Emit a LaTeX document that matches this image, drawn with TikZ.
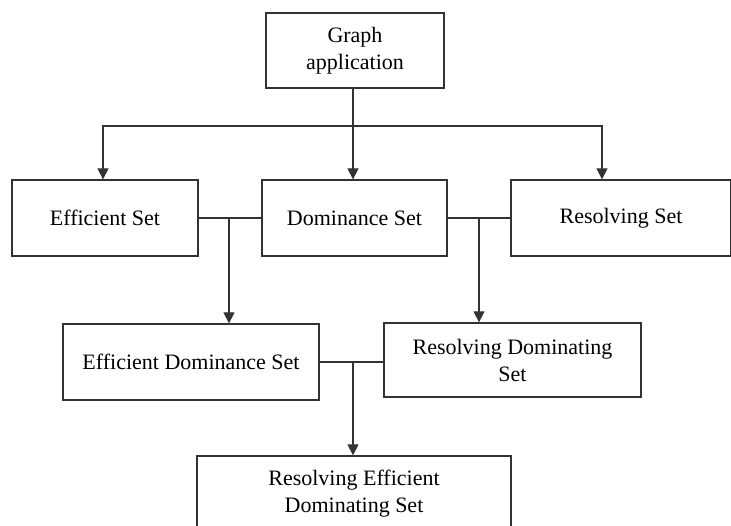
\documentclass[tikz,border=0pt]{standalone}
\usepackage{fontspec}
\setmainfont{Liberation Serif}
\usetikzlibrary{arrows.meta}
\definecolor{ink}{HTML}{333333}

\begin{document}
\begin{tikzpicture}[x=1pt,y=1pt,font=\fontsize{22}{27}\selectfont,
  >={Triangle[width=11pt,length=11pt]},
  box/.style={draw=ink,line width=1.3pt,align=center,inner sep=0pt,minimum height=76pt},
  link/.style={draw=ink,line width=1.3pt}]
  \useasboundingbox (0,0) rectangle (731,525);

  % top
  \node[box,minimum width=178pt,minimum height=75pt] (app) at (355,474.5) {Graph\\application};

  % first row
  \node[box,minimum width=186pt] (eff) at (105,307) {Efficient Set};
  \node[box,minimum width=185pt] (dom) at (354.5,307) {Dominance Set};
  \node[box,minimum width=220pt] (res) at (621,307) {Resolving Set};

  % second row
  \node[box,minimum width=256pt] (effdom) at (191,163) {Efficient Dominance Set};
  \node[box,minimum width=257pt,minimum height=74pt] (resdom) at (512.5,165) {Resolving Dominating\\Set};

  % bottom
  \node[box,minimum width=314pt] (resed) at (354,31) {Resolving Efficient\\Dominating Set};

  % splits
  \coordinate (split) at (353,399);
  \coordinate (lefttop) at (103,399);
  \coordinate (righttop) at (602,399);
  \coordinate (j1) at (229,0);
  \coordinate (j2) at (479,0);
  \coordinate (j3) at (353,0);

  \draw[link] (app.south -| split) -- (split);
  \draw[link,->] (split) -- (split |- dom.north);
  \draw[link,->] (split) -- (lefttop) -- (lefttop |- eff.north);
  \draw[link,->] (split) -- (righttop) -- (righttop |- res.north);

  \draw[link] (eff.east) -- (dom.west);
  \draw[link,->] (eff.east -| j1) -- (j1 |- effdom.north);
  \draw[link] (dom.east) -- (res.west);
  \draw[link,->] (dom.east -| j2) -- (j2 |- resdom.north);

  \draw[link] (effdom.east) -- (effdom.east -| resdom.west);
  \draw[link,->] (effdom.east -| j3) -- (j3 |- resed.north);
\end{tikzpicture}
\end{document}
